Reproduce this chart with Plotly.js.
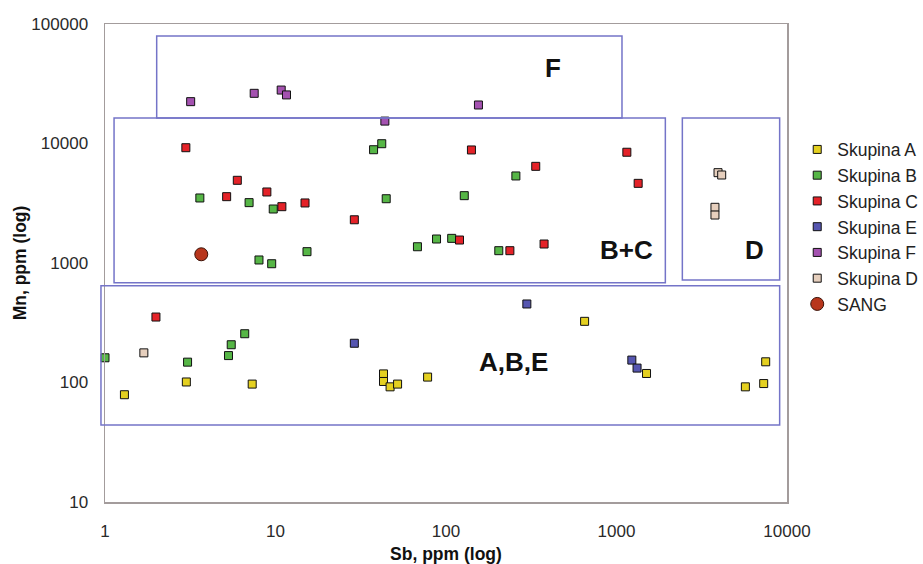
<!DOCTYPE html>
<html>
<head>
<meta charset="utf-8">
<script src="https://cdn.plot.ly/plotly-3.0.1.min.js"></script>
<style>html,body{margin:0;padding:0;background:#fff;}#chart{width:923px;height:564px;}</style>
</head>
<body>
<div id="chart"></div>
<script>
// Data (Sb ppm vs Mn ppm, log-log)
const seriesNames = ["Skupina A", "Skupina B", "Skupina C", "Skupina E", "Skupina F", "Skupina D", "SANG"];

const skupinaA_sb = [1.3, 3.0, 7.3, 43, 43, 47, 52, 78, 650, 1500, 5700, 7300, 7500];
const skupinaA_mn = [79, 101, 97, 118, 102, 92, 97, 111, 325, 119, 92, 98, 149];

const skupinaB_sb = [3.6, 7.0, 9.7, 37.6, 42, 44.6, 8.0, 9.5, 15.3, 68, 88, 108, 257, 128, 204, 1.0, 3.05, 5.3, 5.5, 6.6];
const skupinaB_mn = [3500, 3200, 2830, 8870, 9960, 3450, 1060, 986, 1244, 1368, 1588, 1608, 5350, 3660, 1268, 161, 148, 168, 207, 256];

const skupinaC_sb = [2.98, 5.97, 5.17, 8.9, 10.9, 14.9, 29, 141, 336, 1150, 1340, 120, 237, 376, 1.99];
const skupinaC_mn = [9220, 4920, 3590, 3930, 2960, 3180, 2300, 8830, 6440, 8450, 4640, 1557, 1268, 1442, 353];

const skupinaE_sb = [29, 298, 1230, 1320];
const skupinaE_mn = [213, 454, 154, 132];

const skupinaF_sb = [3.18, 7.5, 10.8, 11.6, 43.8, 155];
const skupinaF_mn = [22400, 26300, 28000, 25500, 15400, 21000];

const skupinaD_sb = [1.69, 3940, 4140, 3780, 3780];
const skupinaD_mn = [177, 5700, 5450, 2925, 2520];

const sang_sb = [3.67];
const sang_mn = [1183];

// Group regions (data space)
const regionLabels = ["F", "B+C", "D", "A,B,E"];
const regionSb0 = [2.01, 1.13, 2433, 0.947];
const regionSb1 = [1077, 1934, 9055, 9055];
const regionMn0 = [16340, 684, 721, 44.1];
const regionMn1 = [79350, 16340, 16340, 646];
const labelSb = [423, 1148, 6457, 250];
const labelMn = [42850, 1285, 1285, 149];

const xTickVals = [1, 10, 100, 1000, 10000];
const yTickVals = [10, 100, 1000, 10000, 100000];

const colors = ["#e4d020", "#56b646", "#e42228", "#5656b0", "#a452b0", "#e6cfbd", "#b8361c"];

const xs = [skupinaA_sb, skupinaB_sb, skupinaC_sb, skupinaE_sb, skupinaF_sb, skupinaD_sb, sang_sb];
const ys = [skupinaA_mn, skupinaB_mn, skupinaC_mn, skupinaE_mn, skupinaF_mn, skupinaD_mn, sang_mn];

const traces = seriesNames.map((n, i) => ({
  type: "scatter",
  mode: "markers",
  name: n,
  x: xs[i],
  y: ys[i],
  cliponaxis: false,
  marker: {
    symbol: i === 6 ? "circle" : "square",
    size: i === 6 ? 13 : 8,
    color: colors[i],
    line: {color: i === 6 ? "#3a1208" : "#111", width: 1}
  }
}));

const shapes = regionLabels.map((l, i) => {
  const s = {
    type: "rect", layer: "above",
    x0: regionSb0[i], x1: regionSb1[i], y0: regionMn0[i], y1: regionMn1[i],
    xref: "x", yref: "y",
    line: {color: "#7474c8", width: 1.5},
    fillcolor: "rgba(0,0,0,0)"
  };
  if (regionSb0[i] < 1) {
    // box edge lies slightly left of the axis
    s.xref = "paper";
    s.x0 = Math.log10(regionSb0[i]) / 4;
    s.x1 = Math.log10(regionSb1[i]) / 4;
  }
  return s;
});

const annotations = regionLabels.map((l, i) => ({
  x: Math.log10(labelSb[i]), y: Math.log10(labelMn[i]), xref: "x", yref: "y",
  text: "<b>" + l + "</b>", showarrow: false,
  font: {family: "Liberation Sans, Arial, sans-serif", size: 26, color: "#111"},
  xanchor: "center", yanchor: "middle"
}));

const font = "Liberation Sans, Arial, sans-serif";

const layout = {
  width: 923, height: 564,
  margin: {l: 105, r: 136, t: 24, b: 62, autoexpand: false},
  paper_bgcolor: "#fff", plot_bgcolor: "#fff",
  font: {family: font, color: "#222"},
  showlegend: true,
  legend: {
    x: 1.015, y: 0.775, xanchor: "left", yanchor: "top",
    font: {family: font, size: 17.5, color: "#222"},
    bgcolor: "rgba(0,0,0,0)", itemclick: false
  },
  xaxis: {
    type: "log", range: [0, 4],
    tickvals: xTickVals, ticktext: xTickVals.map(String),
    tickfont: {family: font, size: 17, color: "#2a2a2a"},
    showgrid: false, zeroline: false,
    showline: true, mirror: true, linecolor: "#a39c9c", linewidth: 1.5,
    ticks: "", ticklabelstandoff: 13,
    title: {text: "<b>Sb, ppm (log)</b>", font: {family: font, size: 17.5, color: "#111"}, standoff: 9}
  },
  yaxis: {
    type: "log", range: [1, 5],
    tickvals: yTickVals, ticktext: yTickVals.map(String),
    tickfont: {family: font, size: 17, color: "#2a2a2a"},
    showgrid: false, zeroline: false,
    showline: true, mirror: true, linecolor: "#a39c9c", linewidth: 1.5,
    ticks: "", ticklabelstandoff: 12,
    title: {text: "<b>Mn, ppm (log)</b>", font: {family: font, size: 17.5, color: "#111"}, standoff: 0}
  },
  shapes: shapes,
  annotations: annotations
};

Plotly.newPlot("chart", traces, layout, {staticPlot: true, displayModeBar: false});
</script>
</body>
</html>
